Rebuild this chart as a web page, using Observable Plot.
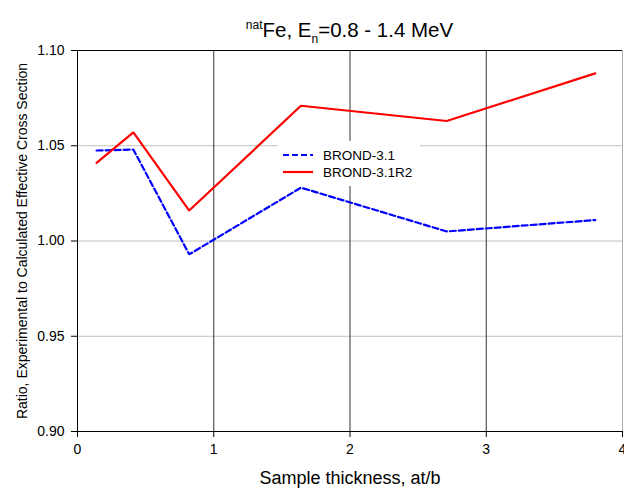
<!DOCTYPE html>
<html><head><meta charset="utf-8">
<script src="https://cdn.jsdelivr.net/npm/d3@7"></script>
<script src="https://cdn.jsdelivr.net/npm/@observablehq/plot@0.6"></script>
<style>
body{margin:0;background:#fff;font-family:"Liberation Sans",Arial,sans-serif;}
#wrap{position:relative;width:624px;height:488px;background:#fff;}
#title{position:absolute;left:77px;width:545px;top:12px;text-align:center;font-size:20.5px;color:#000;line-height:26px;white-space:nowrap;}
#title sup{font-size:12px;vertical-align:8px;}
#title sub{font-size:12px;vertical-align:-6px;}
#chart{position:absolute;left:0;top:40px;}
#chart svg{overflow:visible;}
#legend{position:absolute;left:278px;top:141px;width:142px;height:45px;background:#fff;font-size:13.5px;color:#000;}
.item{position:absolute;left:0;height:16px;display:flex;align-items:center;}
.item svg{margin-left:5px;margin-right:10px;}
</style></head>
<body>
<div id="wrap">
  <div id="chart"></div>
  <div id="title"><sup>nat</sup>Fe, E<sub>n</sub>=0.8 - 1.4 MeV</div>
  <div id="legend"></div>
</div>
<script>
const thickness = [0.14, 0.41, 0.82, 1.64, 2.71, 3.80];
const brond31   = [1.0475, 1.048, 0.993, 1.028, 1.005, 1.011];
const brond31R2 = [1.041, 1.057, 1.016, 1.071, 1.063, 1.088];
const seriesNames = ["BROND-3.1", "BROND-3.1R2"];
const xTicks = [0, 1, 2, 3, 4];
const yTicks = [0.90, 0.95, 1.00, 1.05, 1.10];
const xTitle = "Sample thickness, at/b";
const yTitle = "Ratio, Experimental to Calculated Effective Cross Section";

const rows = [];
thickness.forEach((t, i) => {
  rows.push({x: t, y: brond31[i], s: seriesNames[0]});
  rows.push({x: t, y: brond31R2[i], s: seriesNames[1]});
});

const font = "'Liberation Sans', Arial, sans-serif";
const chart = Plot.plot({
  width: 624, height: 448,
  marginTop: 10, marginBottom: 57, marginLeft: 77, marginRight: 2,
  style: {fontFamily: font, fontSize: "14px", color: "#000", background: "#fff", overflow: "visible"},
  x: {domain: [0, 4]},
  y: {domain: [0.9, 1.1]},
  marks: [
    Plot.ruleY(yTicks.slice(1, -1), {stroke: "#c0c0c0", strokeWidth: 1}),
    Plot.ruleX(xTicks.slice(1, -1), {stroke: "#333", strokeWidth: 1}),
    Plot.ruleX([4], {stroke: "#b0b0b0", strokeWidth: 1}),
    Plot.ruleY([1.1], {stroke: "#000", strokeWidth: 1}),
    Plot.line(rows.filter(d => d.s === seriesNames[0]), {x: "x", y: "y", stroke: "#0000ff", strokeWidth: 2.2, strokeDasharray: "6,3", strokeLinejoin: "miter"}),
    Plot.line(rows.filter(d => d.s === seriesNames[1]), {x: "x", y: "y", stroke: "#ff0000", strokeWidth: 2.2, strokeLinejoin: "miter"}),
    Plot.ruleX([0], {stroke: "#000", strokeWidth: 1}),
    Plot.ruleY([0.9], {stroke: "#000", strokeWidth: 1}),
    Plot.axisX({ticks: xTicks, tickFormat: d => d, tickSize: 6, tickPadding: 7, label: null, stroke: "#000"}),
    Plot.axisY({ticks: yTicks, tickFormat: d3.format(".2f"), tickSize: 6, tickPadding: 7, label: null, stroke: "#000"}),
    Plot.text([xTitle], {frameAnchor: "bottom", dy: 47, text: d => d, fontSize: 18, lineAnchor: "middle", textAnchor: "middle", fill: "#000"}),
    Plot.text([yTitle], {frameAnchor: "left", dx: -55, rotate: -90, text: d => d, fontSize: 14, lineAnchor: "middle", textAnchor: "middle", fill: "#000"})
  ]
});
document.getElementById("chart").appendChild(chart);

const legend = document.getElementById("legend");
const styles = [{stroke: "#0000ff", dash: "6,3"}, {stroke: "#ff0000", dash: null}];
seriesNames.forEach((name, i) => {
  const item = document.createElement("div");
  item.className = "item";
  item.style.top = (6 + i * 17) + "px";
  item.innerHTML = `<svg width="30" height="6"><line x1="0" x2="30" y1="3" y2="3" stroke="${styles[i].stroke}" stroke-width="2.2" ${styles[i].dash ? `stroke-dasharray="${styles[i].dash}"` : ""}/></svg><span>${name}</span>`;
  legend.appendChild(item);
});
</script>
</body></html>
